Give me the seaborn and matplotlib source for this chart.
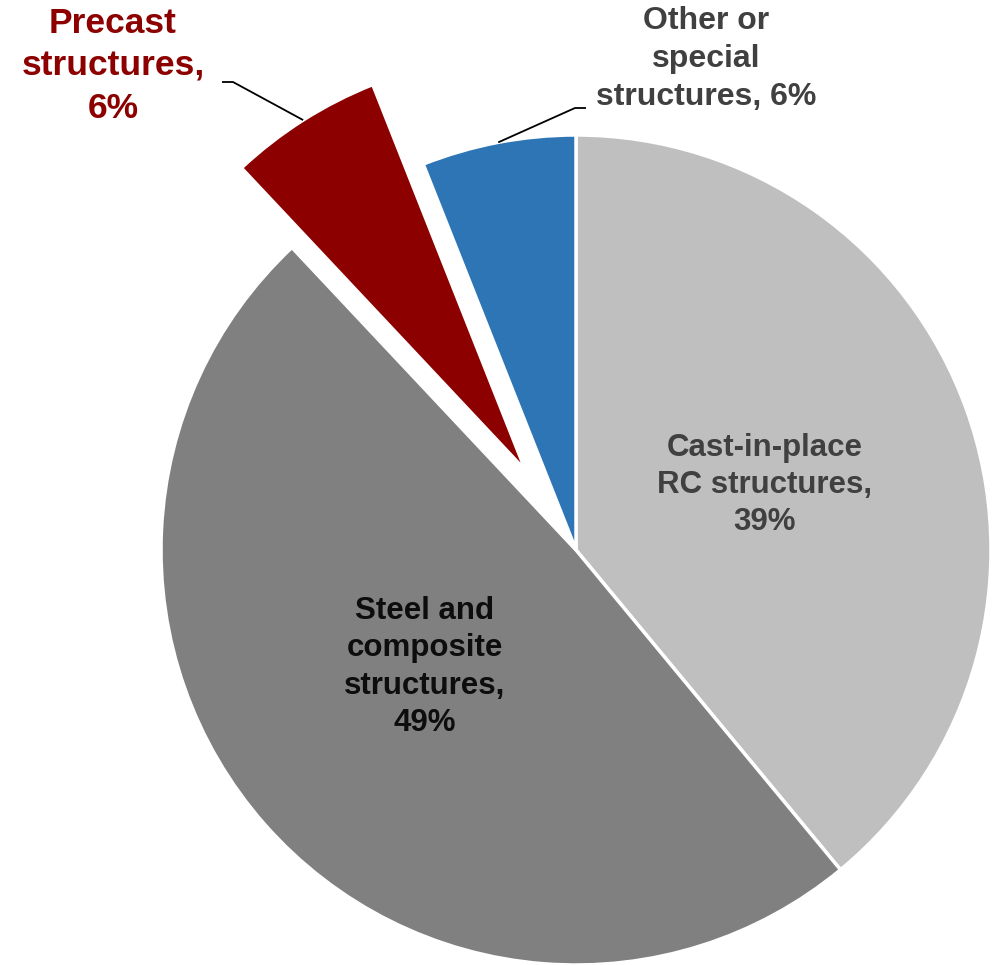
import numpy as np
import matplotlib
matplotlib.use("Agg")
import matplotlib.pyplot as plt
import seaborn as sns

# Share of structural systems
categories = ["Cast-in-place\nRC structures,", "Steel and\ncomposite\nstructures,",
              "Precast\nstructures,", "Other or\nspecial\nstructures,"]
shares = [39, 49, 6, 6]
slice_colors = ["#BFBFBF", "#808080", "#8C0000", "#2E75B6"]
label_colors = ["#404040", "#0D0D0D", "#8C0000", "#404040"]
explode_frac = [0, 0, 0.227, 0]

sns.set_theme(style="white")
plt.rcParams["font.family"] = ["Liberation Sans", "DejaVu Sans"]

W, H = 992, 965
fig = plt.figure(figsize=(W / 100, H / 100), dpi=100)
ax = fig.add_axes([0, 0, 1, 1])

cx, cy, R = 576, H - 550, 415
wedges, _ = ax.pie(shares, colors=sns.color_palette(slice_colors),
                   explode=[e * R for e in explode_frac],
                   startangle=90, counterclock=False, radius=R, center=(cx, cy),
                   wedgeprops=dict(edgecolor="white", linewidth=2.5), frame=True)
ax.set_xlim(0, W)
ax.set_ylim(0, H)
ax.set_aspect("equal")
ax.axis("off")

def arc_mid(w):
    t = np.deg2rad((w.theta1 + w.theta2) / 2)
    x0, y0 = w.center
    return x0 + w.r * np.cos(t), y0 + w.r * np.sin(t)

# inside labels
ax.text(765, H - 485, f"{categories[0]}\n{shares[0]}%", ha="center", va="center",
        fontsize=22.5, fontweight="bold", color=label_colors[0], linespacing=1.32)
ax.text(425, H - 667, f"{categories[1]}\n{shares[1]}%", ha="center", va="center",
        fontsize=22.5, fontweight="bold", color=label_colors[1], linespacing=1.32)

# outside labels with leader lines
ax.text(113, H - 66, f"{categories[2]}\n{shares[2]}%", ha="center", va="center",
        fontsize=25.5, fontweight="bold", color=label_colors[2], linespacing=1.36)
px, py = arc_mid(wedges[2])
ax.plot([px, 233, 222], [py, H - 82, H - 82], color="black", lw=1.3,
        solid_capstyle="butt")

ax.text(706, H - 59, "Other or\nspecial\nstructures, " + f"{shares[3]}%", ha="center",
        va="center", fontsize=23, fontweight="bold", color=label_colors[3],
        linespacing=1.36)
ox, oy = arc_mid(wedges[3])
ax.plot([ox, 575, 586], [oy, H - 108, H - 108], color="black", lw=1.3,
        solid_capstyle="butt")

fig.savefig("out.png", dpi=100)
